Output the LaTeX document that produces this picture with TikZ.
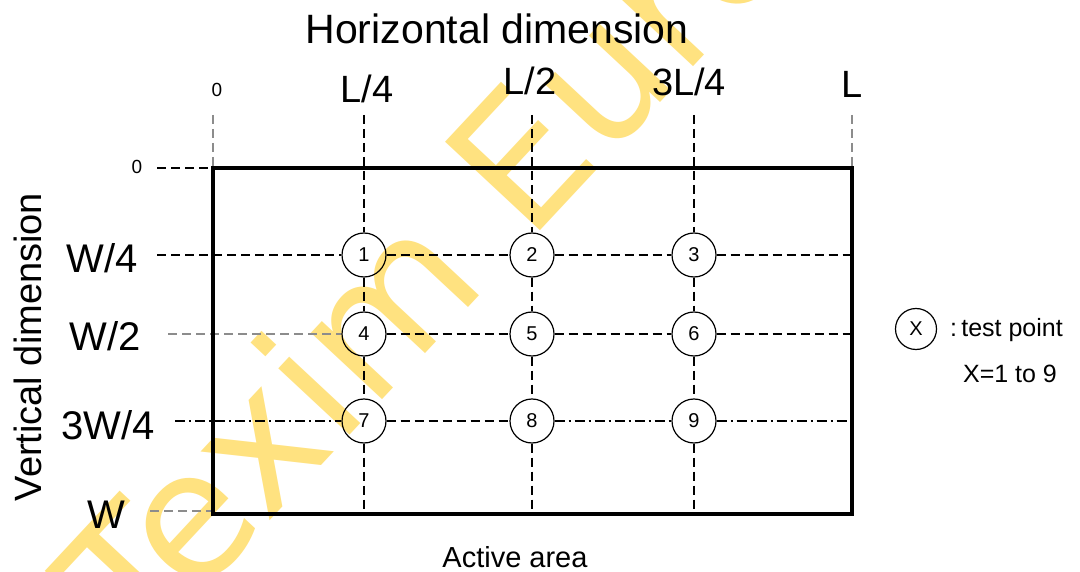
\documentclass[tikz,border=0pt]{standalone}
\usepackage{fontspec}
\setmainfont{Liberation Sans}
\newfontfamily\wmfont{DejaVu Sans}
\definecolor{wmyellow}{RGB}{255,226,128}
\tikzset{
  lbl/.style={inner sep=0pt},
  toplbl/.style={lbl, font=\fontsize{38}{38}\selectfont},
  leftlbl/.style={lbl, font=\fontsize{40}{40}\selectfont},
  smalllbl/.style={lbl, font=\fontsize{19}{19}\selectfont},
  tpoint/.style={circle, draw, minimum size=44pt, inner sep=0pt, line width=1.2pt, font=\fontsize{20}{20}\selectfont},
  gridline/.style={line width=1.3pt, dash pattern=on 9pt off 5pt},
  grayline/.style={gridline, black!45},
  dotline/.style={line width=1.3pt, dash pattern=on 10pt off 4pt on 2pt off 4pt},
  frame/.style={line width=4.5pt},
  wmark/.style={inner sep=0pt, text=wmyellow, rotate=47, anchor=base west, font=\wmfont\fontsize{178}{178}\selectfont}
}
\begin{document}
\begin{tikzpicture}[x=1pt,y=-1pt]
\useasboundingbox (0,0) rectangle (1080,572);
\clip (0,0) rectangle (1080,572);
\fill[white] (0,0) rectangle (1080,572);
% watermark
\node[wmark] (wm) at (140,660) {Texim Europe};
% test points
\node[tpoint] (c1) at (364,255) {1};
\node[tpoint] (c2) at (532,255) {2};
\node[tpoint] (c3) at (694,255) {3};
\node[tpoint] (c4) at (364,334) {4};
\node[tpoint] (c5) at (532,334) {5};
\node[tpoint] (c6) at (694,334) {6};
\node[tpoint] (c7) at (364,421) {7};
\node[tpoint] (c8) at (532,421) {8};
\node[tpoint] (c9) at (694,421) {9};
% frame corners and line ends
\coordinate (tl) at (213,168);
\coordinate (br) at (852,514);
\coordinate (t0) at (213,115);
\coordinate (tL) at (852,115);
\coordinate (trc) at (852,168);
\coordinate (t1) at (364,115);
\coordinate (t2) at (532,115);
\coordinate (t3) at (694,115);
\coordinate (b1) at (364,514);
\coordinate (b2) at (532,514);
\coordinate (b3) at (694,514);
\coordinate (l0) at (157,168);
\coordinate (l1) at (157,255);
\coordinate (l2) at (168,334);
\coordinate (l3) at (175,421);
\coordinate (lW) at (150,511);
\coordinate (fW) at (213,511);
\coordinate (r1) at (852,255);
\coordinate (r2) at (852,334);
\coordinate (r3) at (852,421);
% vertical grid lines
\draw[grayline] (t0) -- (tl);
\draw[grayline] (tL) -- (trc);
\draw[gridline] (t1) -- (c1); \draw[gridline] (c1) -- (c4); \draw[gridline] (c4) -- (c7); \draw[gridline] (c7) -- (b1);
\draw[gridline] (t2) -- (c2); \draw[gridline] (c2) -- (c5); \draw[gridline] (c5) -- (c8); \draw[gridline] (c8) -- (b2);
\draw[gridline] (t3) -- (c3); \draw[gridline] (c3) -- (c6); \draw[gridline] (c6) -- (c9); \draw[gridline] (c9) -- (b3);
% horizontal grid lines
\draw[gridline] (l0) -- (tl);
\draw[gridline] (l1) -- (c1); \draw[gridline] (c1) -- (c2); \draw[gridline] (c2) -- (c3); \draw[gridline] (c3) -- (r1);
\draw[grayline] (l2) -- (c4); \draw[gridline] (c4) -- (c5); \draw[gridline] (c5) -- (c6); \draw[gridline] (c6) -- (r2);
\draw[dotline] (l3) -- (c7); \draw[gridline] (c7) -- (c8); \draw[dotline] (c8) -- (c9); \draw[dotline] (c9) -- (r3);
\draw[grayline] (lW) -- (fW);
% active area frame
\draw[frame] (tl) rectangle (br);
% axis titles
\node[lbl, font=\fontsize{41}{41}\selectfont] (htitle) at (497,29) {Horizontal dimension};
\node[lbl, font=\fontsize{38}{38}\selectfont, rotate=90] (vtitle) at (28,347) {Vertical dimension};
% top labels
\node[smalllbl] (x0) at (217,90) {0};
\node[toplbl] (xq1) at (367,89) {L/4};
\node[toplbl] (xq2) at (530,81) {L/2};
\node[toplbl] (xq3) at (689,82) {3L/4};
\node[toplbl] (xL) at (852,84) {L};
% left labels
\node[smalllbl] (y0) at (137,167) {0};
\node[leftlbl] (yq1) at (102,258) {W/4};
\node[leftlbl] (yq2) at (105,336) {W/2};
\node[leftlbl] (yq3) at (108,425) {3W/4};
\node[leftlbl] (yW) at (106,515) {W};
% bottom label
\node[lbl, font=\fontsize{29}{29}\selectfont] (active) at (515,557) {Active area};
% legend
\node[tpoint, minimum size=41pt] (lx) at (916,329) {X};
\node[lbl, font=\fontsize{25}{25}\selectfont, anchor=base west] (ltext) at (950,337) {:\,test point};
\node[lbl, font=\fontsize{25}{25}\selectfont] (lrange) at (1010,374) {X=1 to 9};
\end{tikzpicture}
\end{document}
